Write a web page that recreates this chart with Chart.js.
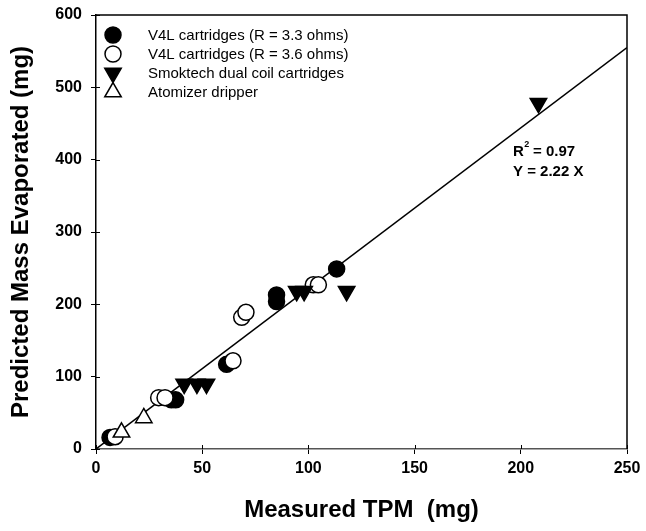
<!DOCTYPE html>
<html><head><meta charset="utf-8">
<script src="https://cdn.jsdelivr.net/npm/chart.js@4.4.1/dist/chart.umd.min.js"></script>
<style>html,body{margin:0;padding:0;background:#fff}#wrap{width:646px;height:531px}</style>
</head><body><div id="wrap"><canvas id="c" width="646" height="531"></canvas></div>
<script>
// V4L cartridges (R = 3.3 ohms) — filled circles
const v433X = [6.6, 35.5, 37.5, 61.5, 85, 85, 113.3];
const v433Y = [16, 68, 68, 117, 204, 213, 249];
// V4L cartridges (R = 3.6 ohms) — open circles
const v436X = [9, 29.5, 32.5, 64.5, 68.6, 70.6, 102.3, 104.7];
const v436Y = [17, 71, 71, 122, 182, 189, 227, 227];
// Smoktech dual coil cartridges — filled down triangles
const smokX = [41.5, 47.5, 52, 94.5, 98, 118, 208.3];
const smokY = [90, 90, 90, 218, 218, 218, 478];
// Atomizer dripper — open up triangles
const atomX = [12, 22.5];
const atomY = [23, 43];
// Regression line Y = 2.22 X
const slope = 2.22;
const fitX = [0, 250];
const xTicks = [0, 50, 100, 150, 200, 250];
const yTicks = [0, 100, 200, 300, 400, 500, 600];
const seriesNames = ['V4L cartridges (R = 3.3 ohms)', 'V4L cartridges (R = 3.6 ohms)', 'Smoktech dual coil cartridges', 'Atomizer dripper'];

const pts = (xs, ys) => xs.map((x, i) => ({x, y: ys[i]}));
const FONT = "'Liberation Sans', Arial, sans-serif";

const styles = [
  {pointStyle: 'circle', radius: 8, bg: '#000', fg: '#000', rot: 0},
  {pointStyle: 'circle', radius: 8, bg: '#fff', fg: '#000', rot: 0},
  {pointStyle: 'triangle', radius: 9.5, bg: '#000', fg: '#000', rot: 180},
  {pointStyle: 'triangle', radius: 9.5, bg: '#fff', fg: '#000', rot: 0}
];
const seriesData = [pts(v433X, v433Y), pts(v436X, v436Y), pts(smokX, smokY), pts(atomX, atomY)];

const datasets = seriesData.map((d, i) => ({
  type: 'scatter', label: seriesNames[i], data: d,
  pointStyle: styles[i].pointStyle, pointRadius: styles[i].radius, pointRotation: styles[i].rot,
  pointBackgroundColor: styles[i].bg, pointBorderColor: styles[i].fg, pointBorderWidth: 1.5,
  order: 4 - i
}));
datasets.push({
  type: 'line', label: 'fit', data: fitX.map(x => ({x, y: slope * x})),
  borderColor: '#000', borderWidth: 1.5, pointRadius: 0, fill: false, order: 10
});

const overlay = {
  id: 'overlay',
  afterDraw(chart) {
    const ctx = chart.ctx, a = chart.chartArea;
    const xs = chart.scales.x, ys = chart.scales.y;
    ctx.save();
    // frame
    ctx.strokeStyle = '#000'; ctx.lineWidth = 1.5;
    ctx.beginPath();
    ctx.moveTo(a.left, a.top); ctx.lineTo(a.right, a.top); ctx.lineTo(a.right, a.bottom);
    ctx.stroke();
    // inner part of crossing tick marks
    ctx.lineWidth = 1;
    ctx.beginPath();
    xTicks.forEach(v => { const p = Math.round(xs.getPixelForValue(v)) + 0.5; ctx.moveTo(p, a.bottom); ctx.lineTo(p, a.bottom - 4); });
    yTicks.forEach(v => { const p = Math.round(ys.getPixelForValue(v)) + 0.5; ctx.moveTo(a.left, p); ctx.lineTo(a.left + 4, p); });
    ctx.stroke();
    // legend
    const lx = a.left + 17, tx = a.left + 52;
    const rows = [35, 54, 73, 92];
    ctx.font = '15px ' + FONT; ctx.fillStyle = '#000'; ctx.textBaseline = 'middle'; ctx.textAlign = 'left';
    rows.forEach((ry, i) => {
      const s = styles[i];
      ctx.fillStyle = s.bg; ctx.strokeStyle = s.fg; ctx.lineWidth = 1.5;
      Chart.helpers.drawPoint(ctx, {pointStyle: s.pointStyle, radius: s.radius, rotation: s.rot, borderWidth: 1.5}, lx, ry);
      ctx.fillStyle = '#000';
      ctx.fillText(seriesNames[i], tx, ry + 1);
    });
    // annotation
    ctx.font = 'bold 15px ' + FONT;
    ctx.textBaseline = 'alphabetic';
    let x0 = 513, y0 = 156;
    ctx.fillText('R', x0, y0);
    const rw = ctx.measureText('R').width;
    ctx.font = 'bold 9px ' + FONT;
    ctx.fillText('2', x0 + rw + 0.5, y0 - 9);
    ctx.font = 'bold 15px ' + FONT;
    ctx.fillText(' = 0.97', x0 + rw + 5, y0);
    ctx.fillText('Y = 2.22 X', x0, y0 + 20);
    ctx.restore();
  }
};

new Chart(document.getElementById('c'), {
  data: {datasets},
  options: {
    responsive: false, animation: false,
    layout: {padding: {top: 15, right: 19, left: 0, bottom: 0}},
    plugins: {legend: {display: false}, tooltip: {enabled: false}},
    scales: {
      x: {
        type: 'linear', min: 0, max: 250,
        afterBuildTicks: s => { s.ticks = xTicks.map(v => ({value: v})); },
        afterFit: s => { s.height = 82; s.paddingRight = 0; },
        grid: {drawOnChartArea: false, color: '#000', tickLength: 5, tickColor: '#000'},
        border: {color: '#555', width: 1.5},
        ticks: {color: '#000', font: {family: FONT, size: 16, weight: 'bold'}, padding: 5, maxRotation: 0},
        title: {display: true, text: 'Measured TPM  (mg)', color: '#000', font: {family: FONT, size: 24, weight: 'bold'}, padding: {top: 0, bottom: 6}}
      },
      y: {
        type: 'linear', min: 0, max: 600,
        afterBuildTicks: s => { s.ticks = yTicks.map(v => ({value: v})); },
        afterFit: s => { s.width = 96; s.paddingTop = 0; s.paddingBottom = 0; },
        grid: {drawOnChartArea: false, color: '#000', tickLength: 5, tickColor: '#000'},
        border: {color: '#000', width: 1.5},
        ticks: {color: '#000', font: {family: FONT, size: 16, weight: 'bold'}, padding: 9},
        title: {display: true, text: 'Predicted Mass Evaporated (mg)', color: '#000', font: {family: FONT, size: 24, weight: 'bold'}, padding: {top: 7, bottom: 0}}
      }
    }
  },
  plugins: [overlay]
});
</script>
</body></html>
